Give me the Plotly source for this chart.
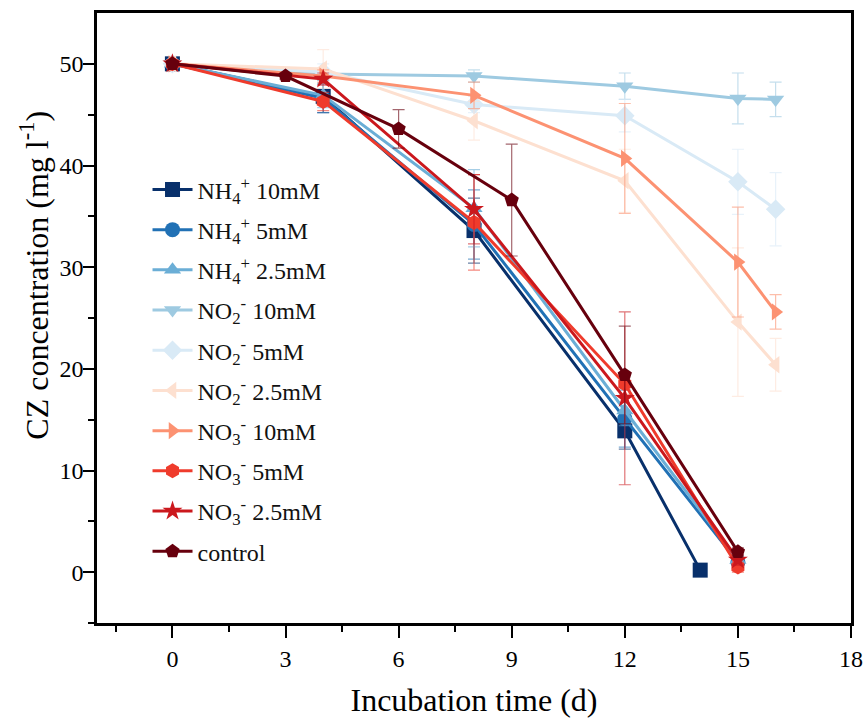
import plotly.graph_objects as go

names = ["NH<sub>4</sub><sup>+</sup> 10mM", "NH<sub>4</sub><sup>+</sup> 5mM", "NH<sub>4</sub><sup>+</sup> 2.5mM",
         "NO<sub>2</sub><sup>-</sup> 10mM", "NO<sub>2</sub><sup>-</sup> 5mM", "NO<sub>2</sub><sup>-</sup> 2.5mM",
         "NO<sub>3</sub><sup>-</sup> 10mM", "NO<sub>3</sub><sup>-</sup> 5mM", "NO<sub>3</sub><sup>-</sup> 2.5mM",
         "control"]

x_nh4_10 = [0, 4, 8, 12, 14]
y_nh4_10 = [50, 46.8, 33.6, 13.9, 0.2]
e_nh4_10 = [0.4, 1.6, 3.2, 1.8, 0]

x_nh4_5 = [0, 4, 8, 12, 15]
y_nh4_5 = [50, 46.6, 34.2, 15.1, 1.0]
e_nh4_5 = [0.4, 1.4, 3.4, 2.8, 0.5]

x_nh4_25 = [0, 4, 8, 12, 15]
y_nh4_25 = [50, 46.9, 35.8, 15.9, 1.2]
e_nh4_25 = [0.4, 1.2, 3.8, 1.5, 0.5]

x_no2_10 = [0, 4, 8, 12, 15, 16]
y_no2_10 = [50, 49.0, 48.8, 47.8, 46.6, 46.5]
e_no2_10 = [0.3, 0.4, 0.6, 1.3, 2.5, 1.7]

x_no2_5 = [0, 4, 8, 12, 15, 16]
y_no2_5 = [50, 49.2, 46.0, 44.9, 38.4, 35.7]
e_no2_5 = [0.3, 0.8, 0.8, 1.6, 3.2, 3.6]

x_no2_25 = [0, 4, 8, 12, 15, 16]
y_no2_25 = [50, 49.5, 44.4, 38.5, 24.6, 20.4]
e_no2_25 = [0.3, 1.9, 1.9, 3.1, 7.3, 2.6]

x_no3_10 = [0, 4, 8, 12, 15, 16]
y_no3_10 = [50, 48.8, 46.9, 40.7, 30.5, 25.6]
e_no3_10 = [0.3, 0.6, 1.3, 5.4, 5.4, 1.7]

x_no3_5 = [0, 4, 8, 12, 15]
y_no3_5 = [50, 46.3, 34.4, 18.5, 0.5]
e_no3_5 = [0.4, 0.9, 4.7, 1.0, 0.5]

x_no3_25 = [0, 4, 8, 12, 15]
y_no3_25 = [50, 48.5, 35.7, 17.1, 1.2]
e_no3_25 = [0.3, 0.6, 3.4, 8.5, 0.5]

x_ctrl = [0, 3, 6, 9, 12, 15]
y_ctrl = [50, 48.8, 43.6, 36.6, 19.4, 2.0]
e_ctrl = [0.3, 0.3, 1.9, 5.5, 4.8, 0.4]

colors = ["#08306b", "#2171b5", "#6baed6", "#9ecae1", "#d9eaf6", "#fde0d0",
          "#fc9272", "#ef3b2c", "#cb181d", "#67000d"]
symbols = ["square", "circle", "triangle-up", "triangle-down", "diamond",
           "triangle-left", "triangle-right", "hexagon", "star", "pentagon"]

xs = [x_nh4_10, x_nh4_5, x_nh4_25, x_no2_10, x_no2_5, x_no2_25, x_no3_10, x_no3_5, x_no3_25, x_ctrl]
ys = [y_nh4_10, y_nh4_5, y_nh4_25, y_no2_10, y_no2_5, y_no2_25, y_no3_10, y_no3_5, y_no3_25, y_ctrl]
es = [e_nh4_10, e_nh4_5, e_nh4_25, e_no2_10, e_no2_5, e_no2_25, e_no3_10, e_no3_5, e_no3_25, e_ctrl]


def rgba(h, a):
    h = h.lstrip("#")
    return "rgba(%d,%d,%d,%.2f)" % (int(h[0:2], 16), int(h[2:4], 16), int(h[4:6], 16), a)


fig = go.Figure()
for i, (n, x, y, e, c, s) in enumerate(zip(names, xs, ys, es, colors, symbols)):
    fig.add_trace(go.Scatter(
        x=x, y=y, name=n, mode="lines+markers", legendgroup="g%d" % i,
        line=dict(color=c, width=3),
        marker=dict(symbol=s, size=15, color=c, line=dict(width=0)),
        error_y=dict(type="data", array=e, visible=True, color=rgba(c, 0.6), thickness=1.2, width=6),
    ))

font_family = "Liberation Serif, Times New Roman, serif"
fig.update_layout(
    width=868, height=718,
    margin=dict(l=97, r=17, t=13, b=95),
    plot_bgcolor="white", paper_bgcolor="white",
    font=dict(family=font_family, size=22, color="black"),
    showlegend=True,
    legend=dict(x=0.067, y=0.747, xanchor="left", yanchor="top",
                bgcolor="rgba(0,0,0,0)", font=dict(size=24, family=font_family, color="#111111"),
                itemwidth=40, tracegroupgap=6),
    xaxis=dict(range=[-2, 18], tickvals=[0, 3, 6, 9, 12, 15, 18], automargin=False,
               ticks="outside", ticklen=12, tickwidth=2, tickcolor="black",
               minor=dict(tickvals=[-1.5, 1.5, 4.5, 7.5, 10.5, 13.5, 16.5], ticks="outside", ticklen=6, tickwidth=2, tickcolor="black"),
               showline=True, linecolor="black", linewidth=2.5, mirror=True,
               showgrid=False, zeroline=False,
               title=dict(text="Incubation time (d)", font=dict(size=32, family=font_family), standoff=20),
               tickfont=dict(size=24, family=font_family)),
    yaxis=dict(range=[-5, 55], tickvals=[0, 10, 20, 30, 40, 50], automargin=False,
               ticks="outside", ticklen=11, tickwidth=2, tickcolor="black",
               minor=dict(tickvals=[-5, 5, 15, 25, 35, 45], ticks="outside", ticklen=6, tickwidth=2, tickcolor="black"),
               showline=True, linecolor="black", linewidth=2.5, mirror=True,
               showgrid=False, zeroline=False, ticklabelstandoff=-5,
               tickfont=dict(size=24, family=font_family)),
    annotations=[dict(text="CZ concentration (mg l<sup>-1</sup>)", textangle=-90,
                      xref="paper", yref="paper", x=-0.083, y=0.570,
                      xanchor="center", yanchor="middle", showarrow=False,
                      font=dict(size=32, family=font_family, color="black"))],
)

fig.write_html("out.html", config={"displayModeBar": False},
               post_script="document.body.style.margin='0';document.body.style.overflow='hidden';")
